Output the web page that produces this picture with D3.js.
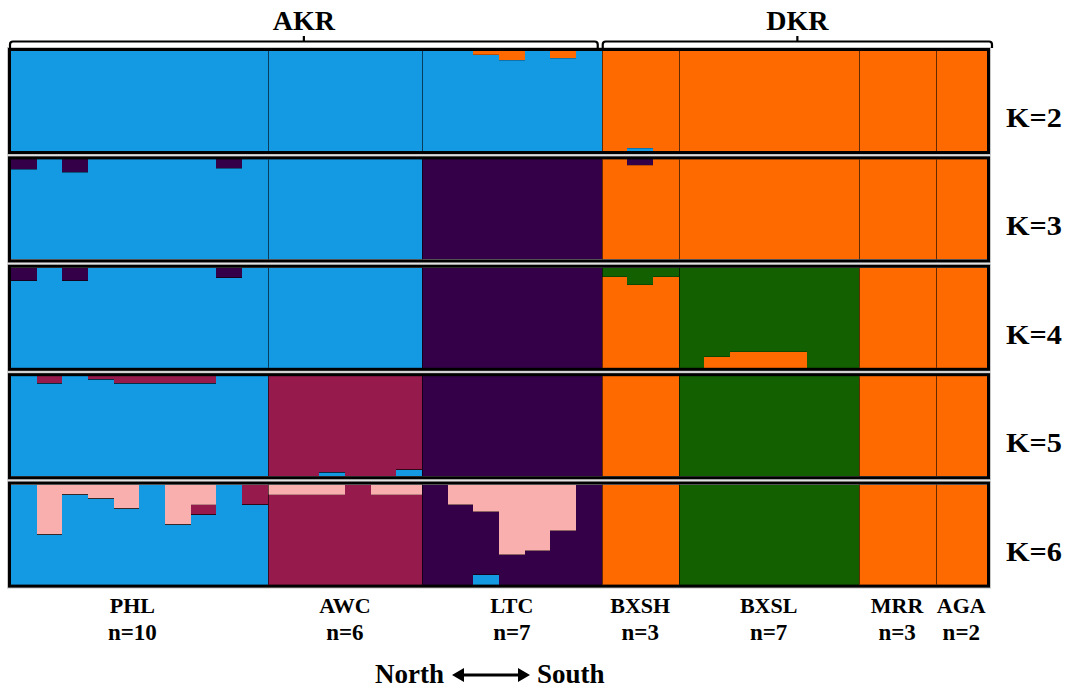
<!DOCTYPE html>
<html><head><meta charset="utf-8">
<script src="https://cdn.jsdelivr.net/npm/d3@7"></script>
<style>
body{margin:0;background:#fff}
svg{display:block}
text{font-family:"Liberation Serif","Times New Roman",serif;font-weight:bold;fill:#000}
</style>
</head><body>
<svg id="c" width="1072" height="689"></svg>
<script>
// ---------------- data ----------------
const populations = ["PHL","AWC","LTC","BXSH","BXSL","MRR","AGA"];
const popSizes    = [10,6,7,3,7,3,2];
const popLabels   = ["n=10","n=6","n=7","n=3","n=7","n=3","n=2"];
const regions     = ["AKR","DKR"];
const regionPops  = [["PHL","AWC","LTC"],["BXSH","BXSL","MRR","AGA"]];
const kLabels     = ["K=2","K=3","K=4","K=5","K=6"];
const clusters    = ["blue","orange","green","purple","maroon","pink"]; // stacking order, bottom to top
const clusterColors = ["#1499e3","#ff6a00","#126000","#340048","#961a4c","#faafaf"];

// individual ancestry proportions (PHL x10 | AWC x6 | LTC x7 | BXSH x3 | BXSL x7 | MRR x3 | AGA x2)
const K2_blue   = [1,1,1,1,1,1,1,1,1,1, 1,1,1,1,1,1, 1,1,0.965,0.91,1,0.93,1, 0,0.03,0, 0,0,0,0,0,0,0, 0,0,0, 0,0];
const K2_orange = [0,0,0,0,0,0,0,0,0,0, 0,0,0,0,0,0, 0,0,0.035,0.09,0,0.07,0, 1,0.97,1, 1,1,1,1,1,1,1, 1,1,1, 1,1];

const K3_blue   = [0.90,1,0.87,1,1,1,1,1,0.91,1, 1,1,1,1,1,1, 0,0,0,0,0,0,0, 0,0,0, 0,0,0,0,0,0,0, 0,0,0, 0,0];
const K3_orange = [0,0,0,0,0,0,0,0,0,0, 0,0,0,0,0,0, 0,0,0,0,0,0,0, 1,0.94,1, 1,1,1,1,1,1,1, 1,1,1, 1,1];
const K3_purple = [0.10,0,0.13,0,0,0,0,0,0.09,0, 0,0,0,0,0,0, 1,1,1,1,1,1,1, 0,0.06,0, 0,0,0,0,0,0,0, 0,0,0, 0,0];

const K4_blue   = [0.87,1,0.87,1,1,1,1,1,0.90,1, 1,1,1,1,1,1, 0,0,0,0,0,0,0, 0,0,0, 0,0,0,0,0,0,0, 0,0,0, 0,0];
const K4_orange = [0,0,0,0,0,0,0,0,0,0, 0,0,0,0,0,0, 0,0,0,0,0,0,0, 0.91,0.83,0.91, 0,0.11,0.16,0.16,0.16,0,0, 1,1,1, 1,1];
const K4_green  = [0,0,0,0,0,0,0,0,0,0, 0,0,0,0,0,0, 0,0,0,0,0,0,0, 0.09,0.17,0.09, 1,0.89,0.84,0.84,0.84,1,1, 0,0,0, 0,0];
const K4_purple = [0.13,0,0.13,0,0,0,0,0,0.10,0, 0,0,0,0,0,0, 1,1,1,1,1,1,1, 0,0,0, 0,0,0,0,0,0,0, 0,0,0, 0,0];

const K5_blue   = [1,0.93,1,0.97,0.93,0.93,0.93,0.93,1,1, 0,0,0.04,0,0,0.065, 0,0,0,0,0,0,0, 0,0,0, 0,0,0,0,0,0,0, 0,0,0, 0,0];
const K5_orange = [0,0,0,0,0,0,0,0,0,0, 0,0,0,0,0,0, 0,0,0,0,0,0,0, 1,1,1, 0,0,0,0,0,0,0, 1,1,1, 1,1];
const K5_green  = [0,0,0,0,0,0,0,0,0,0, 0,0,0,0,0,0, 0,0,0,0,0,0,0, 0,0,0, 1,1,1,1,1,1,1, 0,0,0, 0,0];
const K5_purple = [0,0,0,0,0,0,0,0,0,0, 0,0,0,0,0,0, 1,1,1,1,1,1,1, 0,0,0, 0,0,0,0,0,0,0, 0,0,0, 0,0];
const K5_maroon = [0,0.07,0,0.03,0.07,0.07,0.07,0.07,0,0, 1,1,0.96,1,1,0.935, 0,0,0,0,0,0,0, 0,0,0, 0,0,0,0,0,0,0, 0,0,0, 0,0];

const K6_blue   = [1,0.5,0.9,0.86,0.76,1,0.6,0.7,1,0.8, 0,0,0,0,0,0, 0,0,0.10,0,0,0,0, 0,0,0, 0,0,0,0,0,0,0, 0,0,0, 0,0];
const K6_orange = [0,0,0,0,0,0,0,0,0,0, 0,0,0,0,0,0, 0,0,0,0,0,0,0, 1,1,1, 0,0,0,0,0,0,0, 1,1,1, 1,1];
const K6_green  = [0,0,0,0,0,0,0,0,0,0, 0,0,0,0,0,0, 0,0,0,0,0,0,0, 0,0,0, 1,1,1,1,1,1,1, 0,0,0, 0,0];
const K6_purple = [0,0,0,0,0,0,0,0,0,0, 0,0,0,0,0,0, 1,0.8,0.63,0.3,0.34,0.54,1, 0,0,0, 0,0,0,0,0,0,0, 0,0,0, 0,0];
const K6_maroon = [0,0,0,0,0,0,0,0.1,0,0.2, 0.9,0.9,0.9,1,0.9,0.9, 0,0,0,0,0,0,0, 0,0,0, 0,0,0,0,0,0,0, 0,0,0, 0,0];
const K6_pink   = [0,0.5,0.1,0.14,0.24,0,0.4,0.2,0,0, 0.1,0.1,0.1,0,0.1,0.1, 0,0.2,0.27,0.7,0.66,0.46,0, 0,0,0, 0,0,0,0,0,0,0, 0,0,0, 0,0];

const runs = [
  {blue:K2_blue, orange:K2_orange},
  {blue:K3_blue, orange:K3_orange, purple:K3_purple},
  {blue:K4_blue, orange:K4_orange, green:K4_green, purple:K4_purple},
  {blue:K5_blue, orange:K5_orange, green:K5_green, purple:K5_purple, maroon:K5_maroon},
  {blue:K6_blue, orange:K6_orange, green:K6_green, purple:K6_purple, maroon:K6_maroon, pink:K6_pink}
];

// ---------------- layout ----------------
const svg = d3.select("#c");
const individuals = [];
populations.forEach((p,i)=>{ for(let j=0;j<popSizes[i];j++) individuals.push({id:p+"_"+j, pop:p}); });
const popStart = {}, popEnd = {};
individuals.forEach(d=>{ if(!(d.pop in popStart)) popStart[d.pop]=d.id; popEnd[d.pop]=d.id; });

const x = d3.scaleBand().domain(individuals.map(d=>d.id)).range([11,987]).padding(0);
const row = d3.scaleBand().domain(kLabels).range([48, 587.6]).paddingInner(0.022);
const color = d3.scaleOrdinal().domain(clusters).range(clusterColors);
const inset = 3;

kLabels.forEach((k,ri)=>{
  const run = runs[ri];
  const keys = clusters.filter(c=>c in run);
  const table = individuals.map((d,i)=>{ const o={id:d.id}; keys.forEach(c=>o[c]=run[c][i]); return o; });
  const series = d3.stack().keys(keys).order(d3.stackOrderNone)(table);
  const top = row(k), h = row.bandwidth();
  const y = d3.scaleLinear().domain([0,1]).range([top+h-inset, top+inset]);
  const g = svg.append("g");

  // halo + frame
  g.append("rect").attr("x",9.5).attr("y",top+1.5).attr("width",979).attr("height",h-3)
    .attr("fill","none").attr("stroke","#c8c8c8").attr("stroke-width",5);

  series.forEach(s=>{
    g.append("g").attr("shape-rendering","crispEdges")
      .selectAll("rect").data(s.filter(d=>d[1]-d[0]>0)).join("rect")
      .attr("x",d=>x(d.data.id)).attr("width",x.bandwidth())
      .attr("y",d=>y(d[1])).attr("height",d=>y(d[0])-y(d[1]))
      .attr("fill",color(s.key));
  });
  // thin darker edge along the internal boundaries between clusters
  series.slice(0,-1).forEach(s=>{
    g.append("g").attr("shape-rendering","crispEdges")
      .selectAll("line").data(s.filter(d=>d[1]>0.001 && d[1]<0.999)).join("line")
      .attr("x1",d=>x(d.data.id)).attr("x2",d=>x(d.data.id)+x.bandwidth())
      .attr("y1",d=>y(d[1])).attr("y2",d=>y(d[1]))
      .attr("stroke","#000").attr("stroke-opacity",0.25).attr("stroke-width",1);
  });

  // population dividers
  populations.slice(1).forEach(p=>{
    const xx = Math.round(x(popStart[p]))+0.5;
    g.append("line").attr("x1",xx).attr("x2",xx).attr("y1",top+inset).attr("y2",top+h-inset)
      .attr("stroke","#000").attr("stroke-opacity",0.6).attr("stroke-width",1);
  });

  g.append("rect").attr("x",9.5).attr("y",top+1.5).attr("width",979).attr("height",h-3)
    .attr("fill","none").attr("stroke","#000").attr("stroke-width",3);

  svg.append("text").attr("x",1006).attr("y",top+79).attr("font-size",27)
    .attr("textLength",56).attr("lengthAdjust","spacingAndGlyphs").text(k);
});

// region braces
regions.forEach((r,i)=>{
  const pops = regionPops[i];
  const x0 = x(popStart[pops[0]]) + (i===0 ? -1 : 1);
  const x1 = x(popEnd[pops[pops.length-1]]) + x.bandwidth() + (i===0 ? -4 : 5);
  const cx = (x0+x1)/2, by = 41.5;
  svg.append("path")
    .attr("d",`M${x0},48 V${by+3} Q${x0},${by} ${x0+3},${by} H${x1-3} Q${x1},${by} ${x1},${by+3} V48 M${cx},${by} V36`)
    .attr("fill","none").attr("stroke","#000").attr("stroke-width",2.2);
  svg.append("text").attr("x",cx).attr("y",30).attr("text-anchor","middle").attr("font-size",28).text(r);
});

// population labels
populations.forEach((p,i)=>{
  const cx = (x(popStart[p]) + x(popEnd[p]) + x.bandwidth())/2 + (i===0 ? -7 : 0);
  svg.append("text").attr("x",cx).attr("y",613).attr("text-anchor","middle").attr("font-size",22).text(p);
  svg.append("text").attr("x",cx).attr("y",640).attr("text-anchor","middle").attr("font-size",23).text(popLabels[i]);
});

// North <-> South
svg.append("text").attr("x",444).attr("y",683).attr("text-anchor","end").attr("font-size",27).text("North");
svg.append("text").attr("x",537).attr("y",683).attr("text-anchor","start").attr("font-size",27).text("South");
svg.append("line").attr("x1",460).attr("x2",522).attr("y1",675).attr("y2",675).attr("stroke","#000").attr("stroke-width",3);
svg.append("path").attr("d","M452,675 L464,668 L464,682 Z M530,675 L518,668 L518,682 Z").attr("fill","#000");
</script>
</body></html>
